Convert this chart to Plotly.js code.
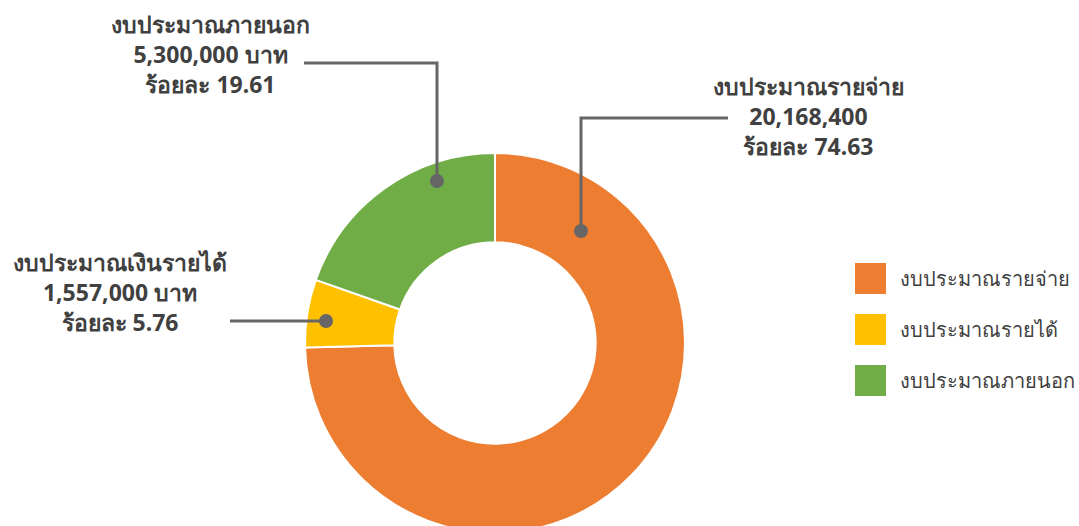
<!DOCTYPE html>
<html>
<head>
<meta charset="utf-8">
<script src="https://cdn.plot.ly/plotly-3.0.1.min.js"></script>
<style>
html,body{margin:0;padding:0;overflow:hidden;background:#fff;}
#chart{width:1079px;height:560px;}
</style>
</head>
<body>
<div id="chart"></div>
<script>
// ---- data ----
const categories = ['งบประมาณรายจ่าย', 'งบประมาณรายได้', 'งบประมาณภายนอก'];
const values = [20168400, 1557000, 5300000];
const percents = ['74.63', '5.76', '19.61'];
const calloutTitles = ['งบประมาณรายจ่าย', 'งบประมาณเงินรายได้', 'งบประมาณภายนอก'];
const calloutAmounts = ['20,168,400', '1,557,000 บาท', '5,300,000 บาท'];
const colors = ['#ED7D31', '#FFC000', '#70AD47'];

// ---- layout helpers (pixel -> paper) ----
const W = 1079, H = 560;
const px = x => x / W;
const py = y => 1 - y / H;
const FONT = 'Noto Sans, Tahoma, sans-serif';
const cx = 495, cy = 343, R = 190;

// callout geometry: dot, elbow, end, label centre (middle line)
const callouts = [
  {dot:[581,231], elbow:[581,118], end:[728,118], label:[808,116]},
  {dot:[326,321], elbow:null,      end:[230,321], label:[120,292]},
  {dot:[437,181], elbow:[437,63],  end:[304,63],  label:[210,54]}
];

const shapes = [];
const annotations = [];
callouts.forEach((c, i) => {
  const pts = [c.dot].concat(c.elbow ? [c.elbow] : []).concat([c.end]);
  let path = 'M' + px(pts[0][0]) + ',' + py(pts[0][1]);
  for (let k = 1; k < pts.length; k++) path += ' L' + px(pts[k][0]) + ',' + py(pts[k][1]);
  shapes.push({type:'path', xref:'paper', yref:'paper', path:path,
    line:{color:'#666666', width:3}});
  const r = 7;
  shapes.push({type:'circle', xref:'paper', yref:'paper',
    x0:px(c.dot[0]-r), x1:px(c.dot[0]+r), y0:py(c.dot[1]+r), y1:py(c.dot[1]-r),
    fillcolor:'#666666', line:{width:0}});
  annotations.push({xref:'paper', yref:'paper', x:px(c.label[0]), y:py(c.label[1]),
    xanchor:'center', yanchor:'middle', showarrow:false, align:'center',
    text:'<b>' + calloutTitles[i] + '<br>' + calloutAmounts[i] + '<br>ร้อยละ ' + percents[i] + '</b>',
    font:{family:FONT, size:23, color:'#404040'}});
});

// custom legend
const legX = 855, legY0 = 263, legStep = 51, sq = 31;
categories.forEach((name, i) => {
  const y0 = legY0 + i * legStep;
  shapes.push({type:'rect', xref:'paper', yref:'paper',
    x0:px(legX), x1:px(legX+sq), y0:py(y0+sq), y1:py(y0),
    fillcolor:colors[i], line:{width:0}});
  annotations.push({xref:'paper', yref:'paper', x:px(898), y:py(y0+sq/2),
    xanchor:'left', yanchor:'middle', showarrow:false, text:name,
    font:{family:FONT, size:20, color:'#404040'}});
});

const trace = {
  type:'pie', labels:categories, values:values, sort:false,
  direction:'clockwise', rotation:0, hole:0.53,
  marker:{colors:colors, line:{color:'#ffffff', width:2}},
  textinfo:'none', hoverinfo:'none', showlegend:false,
  domain:{x:[px(cx-R), px(cx+R)], y:[py(cy+R), py(cy-R)]}
};

Plotly.newPlot('chart', [trace], {
  width:W, height:H, margin:{l:0,r:0,t:0,b:0},
  paper_bgcolor:'#ffffff', showlegend:false,
  shapes:shapes, annotations:annotations
}, {displayModeBar:false, staticPlot:true});
</script>
</body>
</html>
